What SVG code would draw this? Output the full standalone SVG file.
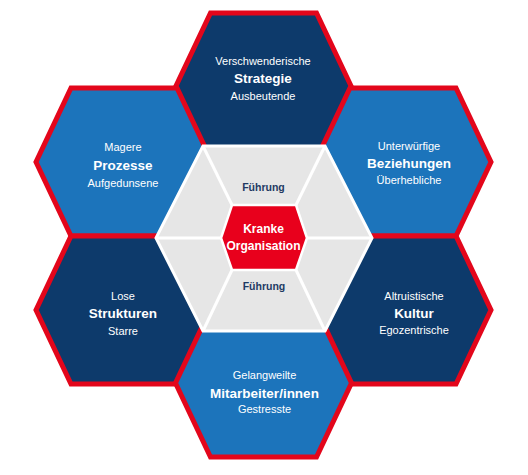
<svg xmlns="http://www.w3.org/2000/svg" width="528" height="475" viewBox="0 0 528 475">
<defs>
<style>
.hex{stroke:#e3061b;stroke-width:5;stroke-linejoin:miter}
.dark{fill:#0d3a6b}
.light{fill:#1c74bb}
.t{font-family:"Liberation Sans",Arial,sans-serif;fill:#ffffff;text-anchor:middle}
.s{font-size:11px}
.b{font-size:13.5px;font-weight:bold}
.f{font-family:"Liberation Sans",Arial,sans-serif;fill:#1f3a63;text-anchor:middle;font-size:10.5px;font-weight:bold}
.sep{stroke:#ffffff;stroke-width:3;fill:none}
</style>
<polygon id="ohex" points="-53,-74 53,-74 88,0 53,74 -53,74 -88,0"/>
</defs>
<rect width="528" height="475" fill="#ffffff"/>
<g id="strategie">
<use href="#ohex" class="hex dark" transform="translate(263.5,87)"/>
<text class="t s" x="263" y="65">Verschwenderische</text>
<text class="t b" x="263" y="83">Strategie</text>
<text class="t s" x="263" y="100">Ausbeutende</text>
</g>
<g id="prozesse">
<use href="#ohex" class="hex light" transform="translate(124,162)"/>
<text class="t s" x="123" y="151">Magere</text>
<text class="t b" x="123" y="170">Prozesse</text>
<text class="t s" x="123" y="187">Aufgedunsene</text>
</g>
<g id="beziehungen">
<use href="#ohex" class="hex light" transform="translate(403,162)"/>
<text class="t s" x="409" y="150">Unterwürfige</text>
<text class="t b" x="409" y="168">Beziehungen</text>
<text class="t s" x="409" y="184">Überhebliche</text>
</g>
<g id="strukturen">
<use href="#ohex" class="hex dark" transform="translate(124,310)"/>
<text class="t s" x="123" y="300">Lose</text>
<text class="t b" x="123" y="318">Strukturen</text>
<text class="t s" x="123" y="335">Starre</text>
</g>
<g id="kultur">
<use href="#ohex" class="hex dark" transform="translate(403,310)"/>
<text class="t s" x="414" y="300">Altruistische</text>
<text class="t b" x="414" y="318">Kultur</text>
<text class="t s" x="414" y="334">Egozentrische</text>
</g>
<g id="mitarbeiter">
<use href="#ohex" class="hex light" transform="translate(263.5,383)"/>
<text class="t s" x="264.5" y="379">Gelangweilte</text>
<text class="t b" x="264.5" y="398">Mitarbeiter/innen</text>
<text class="t s" x="264.5" y="413">Gestresste</text>
</g>
<g id="fuehrung">
<polygon points="203,146 325,146 372,238 325,331 203,331 156,238" fill="#e6e6e6" stroke="#ffffff" stroke-width="3"/>
<g id="connectors">
<line class="sep" x1="203" y1="146" x2="232" y2="205"/>
<line class="sep" x1="325" y1="146" x2="296" y2="205"/>
<line class="sep" x1="372" y1="238" x2="307" y2="238"/>
<line class="sep" x1="325" y1="331" x2="296" y2="270"/>
<line class="sep" x1="203" y1="331" x2="232" y2="270"/>
<line class="sep" x1="156" y1="238" x2="221" y2="238"/>
</g>
<text class="f" x="263.5" y="191">Führung</text>
<text class="f" x="264" y="290">Führung</text>
</g>
<g id="organisation">
<polygon points="232,205 296,205 307,238 296,270 232,270 221,238" fill="#e8001c" stroke="#ffffff" stroke-width="2.5"/>
<text class="t" x="263.5" y="233" font-size="12" font-weight="bold">Kranke</text>
<text class="t" x="263.5" y="250" font-size="12" font-weight="bold">Organisation</text>
</g>
</svg>
